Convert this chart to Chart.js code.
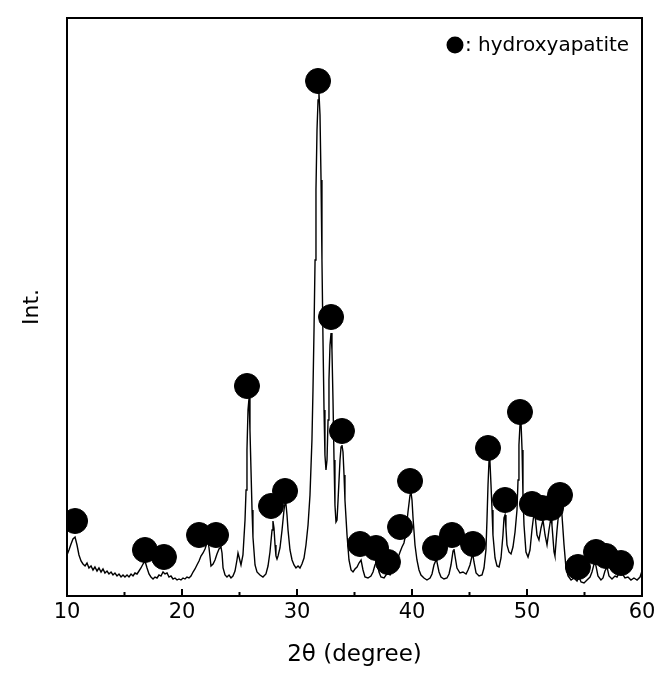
<!DOCTYPE html>
<html>
<head>
<meta charset="utf-8">
<script src="https://cdn.jsdelivr.net/npm/chart.js@4"></script>
<style>
  body { margin: 0; background: #fff; }
  #wrap { width: 665px; height: 678px; }
</style>
</head>
<body>
<div id="wrap"><canvas id="xrd"></canvas></div>
<script>
// XRD pattern: [2theta, intensity]
const pattern = [
  [10.00,41],[10.17,46],[10.35,52],[10.52,57],[10.70,59],[10.87,51],[11.04,41],[11.22,35],[11.39,32],[11.57,30],
  [11.74,33],[11.91,28],[12.09,30],[12.26,26],[12.43,29],[12.61,25],[12.78,28],[12.96,24],[13.13,27],[13.30,23],
  [13.48,25],[13.65,22],[13.83,24],[14.00,21],[14.17,23],[14.35,20],[14.52,22],[14.70,19],[14.87,21],[15.04,19],
  [15.22,21],[15.39,19],[15.57,22],[15.74,20],[15.91,23],[16.09,22],[16.26,25],[16.43,28],[16.61,32],[16.78,35],
  [16.96,28],[17.13,22],[17.30,19],[17.48,17],[17.65,19],[17.83,18],[18.00,21],[18.17,20],[18.35,24],[18.52,22],
  [18.70,23],[18.87,19],[19.04,20],[19.22,17],[19.39,18],[19.57,16],[19.74,17],[19.91,16],[20.09,18],[20.26,17],
  [20.43,19],[20.61,18],[20.78,20],[20.96,24],[21.13,27],[21.30,31],[21.48,35],[21.65,40],[21.83,43],[22.00,47],
  [22.17,53],[22.26,55],[22.35,48],[22.52,30],[22.70,32],[22.87,36],[23.04,42],[23.22,47],[23.39,49],[23.48,43],
  [23.57,28],[23.74,21],[23.91,19],[24.09,21],[24.26,18],[24.43,20],[24.61,25],[24.78,36],[24.87,43],[24.96,39],
  [25.13,31],[25.30,41],[25.48,76],[25.57,106],[25.65,146],[25.74,186],[25.83,198],[25.91,166],[26.00,126],[26.09,86],
  [26.17,59],[26.35,31],[26.52,24],[26.78,21],[27.04,19],[27.30,22],[27.48,30],[27.65,44],[27.83,66],[27.91,75],
  [28.00,68],[28.09,51],[28.17,40],[28.26,37],[28.35,40],[28.52,48],[28.70,66],[28.87,86],[28.96,93],[29.04,92],
  [29.13,81],[29.22,66],[29.39,46],[29.57,36],[29.74,31],[29.91,28],[30.09,30],[30.26,28],[30.43,32],[30.61,38],
  [30.78,51],[30.96,71],[31.13,101],[31.30,156],[31.39,206],[31.48,266],[31.57,336],[31.65,406],[31.74,466],[31.83,496],
  [31.91,503],[32.00,481],[32.09,416],[32.17,336],[32.26,256],[32.35,186],[32.43,141],[32.52,126],[32.61,136],[32.70,176],
  [32.78,216],[32.87,251],[32.96,263],[33.04,246],[33.13,196],[33.22,136],[33.30,91],[33.39,74],[33.48,76],[33.57,96],
  [33.74,136],[33.83,149],[33.91,151],[34.00,144],[34.09,121],[34.17,96],[34.35,61],[34.52,36],[34.70,26],[34.87,24],
  [35.04,27],[35.22,29],[35.39,33],[35.57,36],[35.74,26],[35.91,19],[36.17,18],[36.43,20],[36.61,24],[36.78,31],
  [36.96,35],[37.13,24],[37.30,19],[37.57,18],[37.74,21],[37.91,23],[38.09,21],[38.26,24],[38.43,25],[38.61,30],
  [38.78,38],[38.96,44],[39.13,49],[39.30,53],[39.39,58],[39.48,66],[39.65,84],[39.83,101],[39.91,104],[40.00,96],
  [40.09,78],[40.26,51],[40.43,36],[40.61,26],[40.78,21],[41.04,18],[41.30,16],[41.57,18],[41.74,22],[41.91,31],
  [42.09,36],[42.17,34],[42.35,24],[42.52,19],[42.78,17],[43.04,18],[43.22,22],[43.39,31],[43.57,45],[43.65,47],
  [43.74,40],[43.91,28],[44.17,23],[44.43,24],[44.70,22],[44.87,26],[45.04,31],[45.22,40],[45.30,41],[45.39,34],
  [45.57,23],[45.83,20],[46.09,21],[46.26,28],[46.43,46],[46.52,76],[46.61,111],[46.70,136],[46.78,134],[46.87,111],
  [46.96,86],[47.04,61],[47.22,38],[47.39,30],[47.57,29],[47.74,38],[47.91,61],[48.00,78],[48.09,81],[48.17,68],
  [48.26,51],[48.43,44],[48.61,42],[48.78,49],[48.96,64],[49.13,86],[49.22,116],[49.30,151],[49.39,171],[49.48,174],
  [49.57,146],[49.65,101],[49.74,71],[49.91,44],[50.09,39],[50.26,46],[50.43,66],[50.61,83],[50.70,81],[50.87,61],
  [51.04,56],[51.22,68],[51.39,76],[51.57,61],[51.74,51],[51.91,66],[52.09,79],[52.17,71],[52.35,44],[52.43,40],
  [52.61,66],[52.78,86],[52.96,89],[53.04,81],[53.22,51],[53.39,28],[53.57,20],[53.83,16],[54.09,18],[54.35,15],
  [54.52,19],[54.70,14],[54.96,13],[55.22,16],[55.48,19],[55.65,24],[55.83,32],[55.91,34],[56.00,30],[56.17,20],
  [56.43,16],[56.61,18],[56.78,25],[56.96,29],[57.13,20],[57.39,17],[57.65,20],[57.83,19],[58.00,23],[58.17,25],
  [58.35,21],[58.52,18],[58.78,19],[59.04,16],[59.30,18],[59.57,16],[59.83,19],[60.00,25]
];

// hydroxyapatite peak markers
const markerTheta = [10.70,16.78,18.43,21.48,22.96,25.65,27.74,28.96,31.83,32.96,33.91,35.48,36.87,37.91,38.96,
                     39.83,42.00,43.48,45.30,46.61,48.09,49.39,50.43,51.30,52.09,52.87,54.43,56.00,56.87,58.17];
const markerInt = [75,46,39,61,61,210,90,105,515,279,165,52,48,34,69,
                   115,48,61,52,148,96,184,92,88,88,101,29,44,40,33];

const xTicks = [10, 20, 30, 40, 50, 60];
const legendText = ': hydroxyapatite';
const FONT = 'DejaVu Sans';

// frame around the plot, inward ticks and the legend
const framePlugin = {
  id: 'frame',
  afterDraw(chart) {
    const {ctx, chartArea: a, scales: {x}} = chart;
    ctx.save();
    ctx.strokeStyle = '#000';
    ctx.lineWidth = 2;
    ctx.strokeRect(a.left, a.top, a.right - a.left, a.bottom - a.top);
    ctx.beginPath();
    x.ticks.forEach(t => {
      const px = x.getPixelForValue(t.value);
      const len = xTicks.includes(t.value) ? 7 : 4;
      ctx.moveTo(px, a.bottom);
      ctx.lineTo(px, a.bottom - len);
    });
    ctx.stroke();

    // legend
    const lx = a.right - 187, ly = a.top + 27;
    ctx.fillStyle = '#000';
    ctx.beginPath();
    ctx.arc(lx, ly, 8.5, 0, Math.PI * 2);
    ctx.fill();
    ctx.font = '20px "' + FONT + '"';
    ctx.textBaseline = 'middle';
    ctx.fillText(legendText, lx + 10, ly + 1);
    ctx.restore();
  }
};

new Chart(document.getElementById('xrd'), {
  type: 'scatter',
  data: {
    datasets: [{
      type: 'scatter',
      label: 'hydroxyapatite',
      data: markerTheta.map((t, i) => ({x: t, y: markerInt[i]})),
      backgroundColor: '#000',
      borderColor: '#000',
      pointRadius: 12.5,
      pointHoverRadius: 12.5,
      order: 0
    }, {
      type: 'line',
      label: 'pattern',
      data: pattern.map(p => ({x: p[0], y: p[1]})),
      borderColor: '#000',
      borderWidth: 1.4,
      pointRadius: 0,
      tension: 0,
      fill: false,
      order: 1
    }]
  },
  options: {
    responsive: true,
    maintainAspectRatio: false,
    animation: false,
    layout: { padding: { left: 0, top: 18, right: 23, bottom: 0 } },
    plugins: { legend: { display: false }, tooltip: { enabled: false } },
    scales: {
      x: {
        type: 'linear',
        min: 10,
        max: 60,
        grid: { display: false, drawTicks: false },
        border: { display: false },
        ticks: {
          stepSize: 5,
          autoSkip: false,
          maxRotation: 0,
          padding: 4,
          color: '#000',
          font: { family: FONT, size: 21 },
          callback: v => xTicks.includes(v) ? String(v) : ''
        },
        title: {
          display: true,
          text: '2θ (degree)',
          color: '#000',
          font: { family: FONT, size: 23 },
          padding: { top: 0, bottom: 9 }
        },
        afterFit(scale) { scale.height = 82; }
      },
      y: {
        min: 0,
        max: 578,
        grid: { display: false, drawTicks: false },
        border: { display: false },
        ticks: { display: false },
        title: {
          display: true,
          text: 'Int.',
          color: '#000',
          font: { family: FONT, size: 22 },
          padding: { top: 19, bottom: 0 }
        },
        afterFit(scale) { scale.width = 67; }
      }
    }
  },
  plugins: [framePlugin]
});
</script>
</body>
</html>
